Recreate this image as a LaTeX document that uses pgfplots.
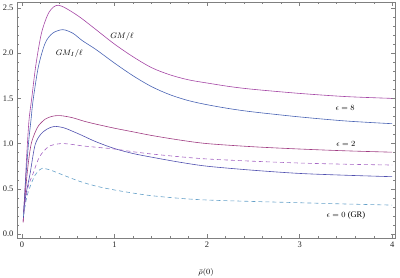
\documentclass[border=0pt]{standalone}
\usepackage{pgfplots}
\pgfplotsset{compat=1.18}
\usepackage{fontspec}
\setmainfont{Liberation Serif}
\definecolor{magA}{RGB}{165,70,165}
\definecolor{bluA}{RGB}{74,100,180}
\definecolor{magC}{RGB}{160,60,130}
\definecolor{bluD}{RGB}{80,80,175}
\definecolor{dashE}{RGB}{165,100,195}
\definecolor{dashF}{RGB}{100,160,200}
\begin{document}
\begin{tikzpicture}
\begin{axis}[
 scale only axis, width=378bp, height=236bp,
 xmin=-0.054, xmax=4.03, ymin=-0.044, ymax=2.566,
 axis line style={gray, line width=0.5bp},
 tick style={gray, line width=0.4bp},
 xtick={0,1,2,3,4}, minor x tick num=4,
 ytick={0,0.5,1,1.5,2,2.5}, minor y tick num=4,
 major tick length=4bp, minor tick length=2.5bp,
 tick align=inside,
 /pgf/number format/assume math mode=true,
 y tick label style={/pgf/number format/.cd, fixed, fixed zerofill, precision=1},
 ticklabel style={font=\fontsize{8.5}{10}\selectfont, text=black!85},
 xlabel={$\bar{\rho}(0)$},
 xlabel style={at={(axis description cs:0.5,-0.145)}, anchor=center, font=\fontsize{8.5}{10}\selectfont},
 every axis plot/.append style={line width=0.6bp, smooth, tension=0.5},
]
% epsilon=8, GM/l
\addplot[magA] coordinates {(0.012,0.13)(0.03,0.45)(0.05,0.85)(0.075,1.25)(0.105,1.5)(0.15,1.87)(0.21,2.22)(0.28,2.43)(0.34,2.51)(0.39,2.53)(0.45,2.51)(0.55,2.45)(0.65,2.38)(0.8,2.26)(1.0,2.10)(1.2,1.96)(1.4,1.84)(1.6,1.76)(1.8,1.705)(2.0,1.67)(2.25,1.63)(2.5,1.60)(3.0,1.555)(3.5,1.52)(4.0,1.50)};
% epsilon=8, GM_I/l
\addplot[bluA] coordinates {(0.015,0.2)(0.04,0.6)(0.07,1.0)(0.097,1.26)(0.12,1.48)(0.177,1.85)(0.25,2.11)(0.33,2.22)(0.44,2.26)(0.55,2.22)(0.65,2.14)(0.8,2.04)(1.0,1.89)(1.2,1.75)(1.4,1.63)(1.6,1.54)(1.8,1.475)(2.0,1.43)(2.25,1.385)(2.5,1.35)(3.0,1.295)(3.5,1.25)(4.0,1.22)};
% epsilon=2
\addplot[magC] coordinates {(0.012,0.13)(0.04,0.5)(0.07,0.8)(0.1,1.0)(0.14,1.12)(0.18,1.2)(0.25,1.27)(0.32,1.30)(0.385,1.31)(0.45,1.305)(0.55,1.285)(0.68,1.245)(0.8,1.215)(1.0,1.17)(1.2,1.13)(1.4,1.09)(1.7,1.04)(2.0,1.0)(2.5,0.965)(3.0,0.94)(3.5,0.92)(4.0,0.905)};
\addplot[bluD] coordinates {(0.015,0.18)(0.04,0.42)(0.086,0.66)(0.14,0.98)(0.2,1.1)(0.27,1.16)(0.35,1.19)(0.45,1.175)(0.55,1.135)(0.65,1.09)(0.8,1.02)(1.0,0.945)(1.2,0.89)(1.4,0.85)(1.7,0.795)(2.0,0.75)(2.5,0.705)(3.0,0.67)(3.5,0.65)(4.0,0.634)};
% epsilon=0 (GR)
\addplot[dashE, dash pattern=on 4bp off 3bp] coordinates {(0.015,0.2)(0.06,0.5)(0.12,0.67)(0.19,0.855)(0.285,0.965)(0.38,0.995)(0.45,1.0)(0.55,0.99)(0.65,0.975)(0.8,0.96)(1.0,0.94)(1.2,0.91)(1.4,0.885)(1.7,0.855)(2.0,0.83)(2.5,0.805)(3.0,0.785)(3.5,0.772)(4.0,0.763)};
\addplot[dashF, dash pattern=on 4bp off 3bp] coordinates {(0.015,0.2)(0.05,0.4)(0.086,0.52)(0.14,0.65)(0.19,0.71)(0.22,0.727)(0.3,0.71)(0.45,0.65)(0.63,0.58)(0.8,0.53)(1.0,0.487)(1.35,0.43)(1.7,0.395)(2.0,0.376)(2.5,0.36)(3.0,0.346)(3.5,0.332)(4.0,0.32)};
\node[font=\fontsize{8.5}{10}\selectfont] at (axis cs:1.08,2.18) {$GM/\ell$};
\node[font=\fontsize{8.5}{10}\selectfont] at (axis cs:0.51,2.0) {$GM_I/\ell$};
\node[font=\fontsize{8.5}{10}\selectfont] at (axis cs:3.49,1.39) {$\epsilon=8$};
\node[font=\fontsize{8.5}{10}\selectfont] at (axis cs:3.5,1.0) {$\epsilon=2$};
\node[font=\fontsize{8.5}{10}\selectfont] at (axis cs:3.5,0.2) {$\epsilon=0$ (GR)};
\coordinate (sw) at (rel axis cs:0,0);
\coordinate (ne) at (rel axis cs:1,1);
\end{axis}
\pgfresetboundingbox
\path[use as bounding box] ([shift={(-17bp,-40bp)}]sw) rectangle ([shift={(5bp,2bp)}]ne);
\end{tikzpicture}
\end{document}
